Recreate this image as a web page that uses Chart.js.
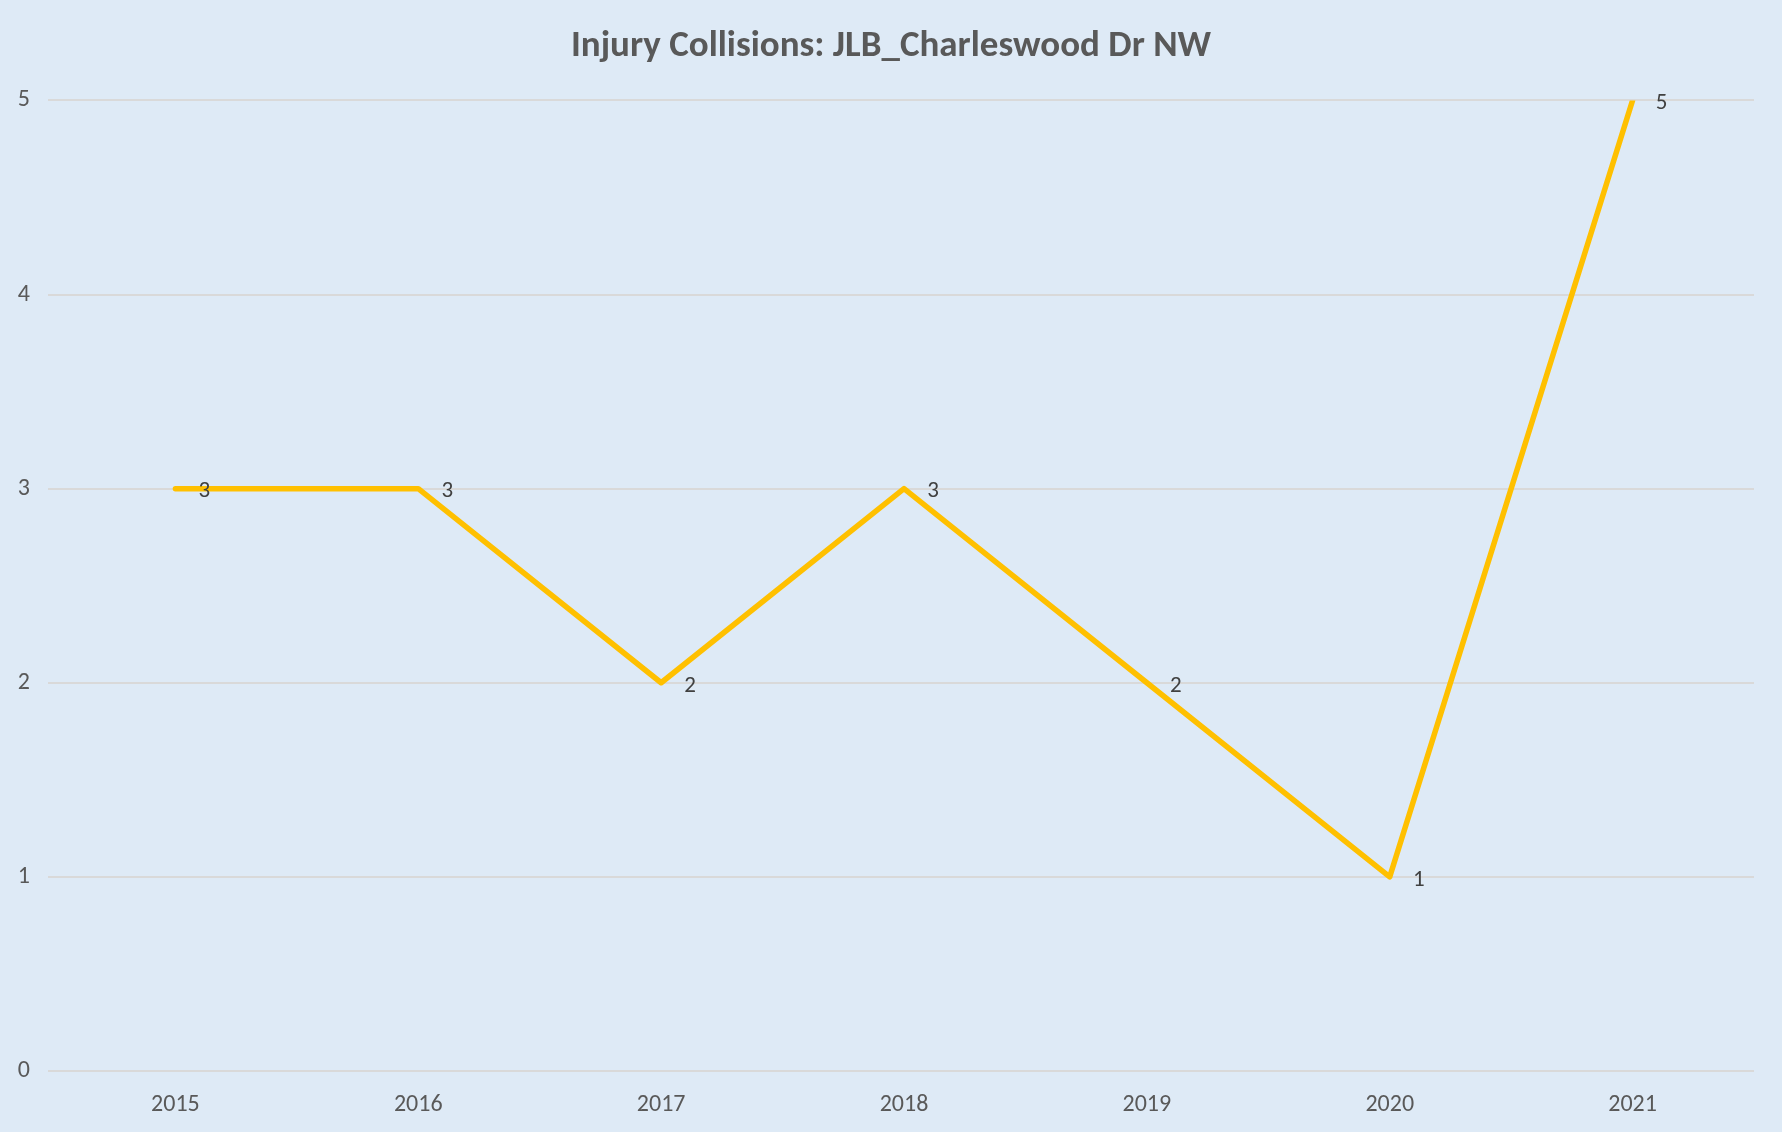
<!DOCTYPE html>
<html>
<head>
<meta charset="utf-8">
<script src="https://cdn.jsdelivr.net/npm/chart.js@4"></script>
<style>
  html, body { margin: 0; padding: 0; background: #DEEAF6; }
  #wrap { width: 1782px; height: 1132px; position: relative; }
</style>
</head>
<body>
<div id="wrap"><canvas id="chart"></canvas></div>
<script>
const years = ["2015", "2016", "2017", "2018", "2019", "2020", "2021"];
const collisions = [3, 3, 2, 3, 2, 1, 5];
const yTicks = [0, 1, 2, 3, 4, 5];

const fontFam = "Carlito, 'Open Sans', 'Noto Sans', sans-serif";

// draws the value next to each point, like the spreadsheet labels
const valueLabels = {
  id: "valueLabels",
  afterDatasetsDraw(chart) {
    const ctx = chart.ctx;
    const meta = chart.getDatasetMeta(0);
    ctx.save();
    ctx.fillStyle = "#404040";
    ctx.font = "23px " + fontFam;
    ctx.textAlign = "center";
    ctx.textBaseline = "middle";
    meta.data.forEach((pt, i) => {
      ctx.fillText(String(collisions[i]), pt.x + 29, pt.y + 3);
    });
    ctx.restore();
  }
};

new Chart(document.getElementById("chart"), {
  type: "line",
  plugins: [valueLabels],
  data: {
    labels: years,
    datasets: [{
      data: collisions,
      borderColor: "#FFC000",
      borderWidth: 5.5,
      borderCapStyle: "round",
      borderJoinStyle: "round",
      pointRadius: 0,
      tension: 0,
      fill: false
    }]
  },
  options: {
    responsive: true,
    maintainAspectRatio: false,
    animation: false,
    layout: { padding: 0 },
    plugins: {
      legend: { display: false },
      tooltip: { enabled: false },
      title: {
        display: true,
        text: "Injury Collisions: JLB_Charleswood Dr NW",
        color: "#595959",
        font: { family: fontFam, size: 37, weight: "bold" },
        padding: { top: 25, bottom: 31 }
      }
    },
    scales: {
      x: {
        offset: true,
        grid: { display: false },
        border: { display: false },
        ticks: { color: "#595959", font: { family: fontFam, size: 24 }, padding: 12 },
        afterFit(scale) { scale.height = 61; }
      },
      y: {
        min: 0,
        max: 5,
        afterBuildTicks(scale) { scale.ticks = yTicks.map(v => ({ value: v })); },
        grid: { color: "#D9D9D9", lineWidth: 2, drawTicks: true, tickLength: 6, tickColor: "#D9D9D9" },
        border: { display: false },
        ticks: { color: "#595959", font: { family: fontFam, size: 24 }, padding: 18 },
        afterFit(scale) { scale.width = 54; }
      },
      // empty right-hand spacer so the plot stops short of the edge
      yRight: {
        position: "right",
        min: 0,
        max: 5,
        grid: { display: false },
        border: { display: false },
        ticks: { display: false },
        afterFit(scale) { scale.width = 28; }
      }
    }
  }
});
</script>
</body>
</html>
